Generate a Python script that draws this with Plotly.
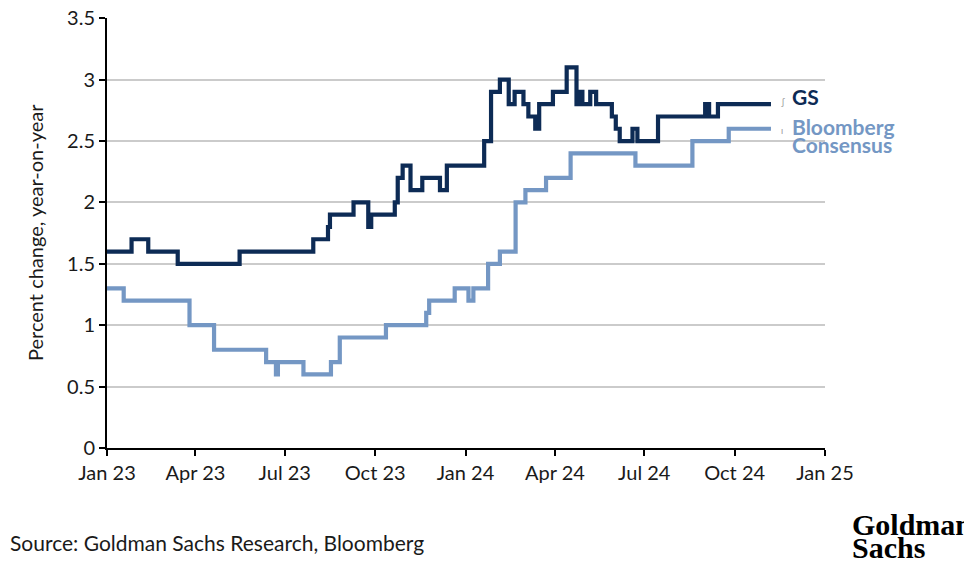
"""GS vs Bloomberg consensus forecast, percent change year-on-year."""

import plotly.graph_objects as go

gs_dates = [
    "2023-01-01", "2023-01-26", "2023-02-12", "2023-03-14", "2023-05-16",
    "2023-07-30", "2023-08-14", "2023-08-16", "2023-09-09", "2023-09-24",
    "2023-09-27", "2023-10-21", "2023-10-24", "2023-10-29", "2023-11-06",
    "2023-11-18", "2023-12-06", "2023-12-13", "2024-01-20", "2024-01-27",
    "2024-02-05", "2024-02-14", "2024-02-20", "2024-02-29", "2024-03-05",
    "2024-03-12", "2024-03-16", "2024-03-30", "2024-04-13", "2024-04-23",
    "2024-04-26", "2024-04-29", "2024-05-07", "2024-05-13", "2024-05-29",
    "2024-06-02", "2024-06-06", "2024-06-19", "2024-06-24", "2024-07-15",
    "2024-09-01", "2024-09-05", "2024-09-14", "2024-11-07",
]
gs_values = [
    1.6, 1.7, 1.6, 1.5, 1.6,
    1.7, 1.8, 1.9, 2.0, 1.8,
    1.9, 2.0, 2.2, 2.3, 2.1,
    2.2, 2.1, 2.3, 2.5, 2.9,
    3.0, 2.8, 2.9, 2.8, 2.7,
    2.6, 2.8, 2.9, 3.1, 2.8,
    2.9, 2.8, 2.9, 2.8, 2.7,
    2.6, 2.5, 2.6, 2.5, 2.7,
    2.8, 2.7, 2.8, 2.8,
]

bbg_dates = [
    "2023-01-01", "2023-01-18", "2023-03-26", "2023-04-20", "2023-06-12",
    "2023-06-22", "2023-06-24", "2023-07-20", "2023-08-17", "2023-08-26",
    "2023-10-12", "2023-11-22", "2023-11-25", "2023-12-21", "2024-01-04",
    "2024-01-09", "2024-01-24", "2024-02-05", "2024-02-21", "2024-03-02",
    "2024-03-23", "2024-04-17", "2024-06-22", "2024-08-19", "2024-09-25",
    "2024-11-07",
]
bbg_values = [
    1.3, 1.2, 1.0, 0.8, 0.7,
    0.6, 0.7, 0.6, 0.7, 0.9,
    1.0, 1.1, 1.2, 1.3, 1.2,
    1.3, 1.5, 1.6, 2.0, 2.1,
    2.2, 2.4, 2.3, 2.5, 2.6,
    2.6,
]

x_tick_dates = [
    "2023-01-01", "2023-04-01", "2023-07-01", "2023-10-01", "2024-01-01",
    "2024-04-01", "2024-07-01", "2024-10-01", "2025-01-01",
]
x_tick_labels = [
    "Jan 23", "Apr 23", "Jul 23", "Oct 23", "Jan 24",
    "Apr 24", "Jul 24", "Oct 24", "Jan 25",
]
y_ticks = [0, 0.5, 1, 1.5, 2, 2.5, 3, 3.5]
y_tick_labels = ["0", "0.5", "1", "1.5", "2", "2.5", "3", "3.5"]

GS_COLOR = "#0d2b55"
BBG_COLOR = "#7497c4"
FONT = "Lato"

FIG_W, FIG_H = 964, 567
# plot area in screen pixels: left 107, right 825, top 18, bottom 448
PLOT_L, PLOT_R, PLOT_T, PLOT_B = 107, 825, 18, 448


def px_x(x):
    return (x - PLOT_L) / (PLOT_R - PLOT_L)


def px_y(y):
    return (PLOT_B - y) / (PLOT_B - PLOT_T)


fig = go.Figure()
fig.add_trace(
    go.Scatter(
        x=bbg_dates,
        y=bbg_values,
        mode="lines",
        line={"color": BBG_COLOR, "width": 4.2, "shape": "hv"},
        name="Bloomberg Consensus",
    )
)
fig.add_trace(
    go.Scatter(
        x=gs_dates,
        y=gs_values,
        mode="lines",
        line={"color": GS_COLOR, "width": 4.2, "shape": "hv"},
        name="GS",
    )
)

annotations = [
    # series labels
    {"x": px_x(790), "y": px_y(97), "text": "GS", "color": GS_COLOR,
     "size": 21, "weight": 700},
    {"x": px_x(790), "y": px_y(127), "text": "Bloomberg", "color": BBG_COLOR,
     "size": 21, "weight": 700},
    {"x": px_x(790), "y": px_y(145), "text": "Consensus", "color": BBG_COLOR,
     "size": 21, "weight": 700},
    # tiny leader marks
    {"x": px_x(779), "y": px_y(101), "text": "ʃ", "color": "#999999",
     "size": 9, "weight": 400},
    {"x": px_x(779), "y": px_y(130), "text": "ı", "color": "#999999",
     "size": 9, "weight": 400},
    # source
    {"x": px_x(8), "y": px_y(542), "text": "Source: Goldman Sachs Research, Bloomberg",
     "color": "#1a1a1a", "size": 21, "weight": 400},
]

for a in annotations:
    fig.add_annotation(
        x=a["x"], y=a["y"], xref="paper", yref="paper",
        text=a["text"], showarrow=False, xanchor="left", yanchor="middle",
        font={"family": FONT, "size": a["size"], "color": a["color"],
              "weight": a["weight"]},
    )

# logo
for text, yc in [("Goldman", 524), ("Sachs", 547)]:
    fig.add_annotation(
        x=px_x(850), y=px_y(yc), xref="paper", yref="paper",
        text=text, showarrow=False, xanchor="left", yanchor="middle",
        font={"family": "Liberation Serif", "size": 30,
              "color": "#000000", "weight": 700},
    )

# y title
fig.add_annotation(
    x=px_x(35), y=px_y(233), xref="paper", yref="paper",
    text="Percent change, year-on-year", showarrow=False, textangle=-90,
    xanchor="center", yanchor="middle",
    font={"family": FONT, "size": 20, "color": "#1a1a1a"},
)

fig.update_layout(
    width=FIG_W,
    height=FIG_H,
    margin={
        "l": PLOT_L,
        "r": FIG_W - PLOT_R,
        "t": PLOT_T,
        "b": FIG_H - PLOT_B,
    },
    paper_bgcolor="white",
    plot_bgcolor="white",
    showlegend=False,
    font={"family": FONT, "size": 18, "color": "#1a1a1a"},
    xaxis={
        "range": ["2023-01-01", "2025-01-01"],
        "tickvals": x_tick_dates,
        "ticktext": x_tick_labels,
        "showgrid": False,
        "showline": True,
        "linecolor": "#000000",
        "linewidth": 2,
        "ticks": "outside",
        "ticklen": 6,
        "tickwidth": 2,
        "tickcolor": "#000000",
        "tickfont": {"size": 20},
        "zeroline": False,
        "automargin": False,
    },
    yaxis={
        "range": [0, 3.502],
        "tickvals": y_ticks,
        "ticktext": y_tick_labels,
        "showgrid": True,
        "gridcolor": "#cbcbcb",
        "gridwidth": 2,
        "showline": True,
        "linecolor": "#000000",
        "linewidth": 2,
        "ticks": "outside",
        "ticklen": 6,
        "tickwidth": 2,
        "tickcolor": "#000000",
        "tickfont": {"size": 20},
        "zeroline": False,
        "automargin": False,
    },
)

# drop the default 8px page margin so the figure sits at the window corner
fig.write_html(
    "out.html",
    config={"displayModeBar": False},
    post_script="document.body.style.margin = '0';",
)
